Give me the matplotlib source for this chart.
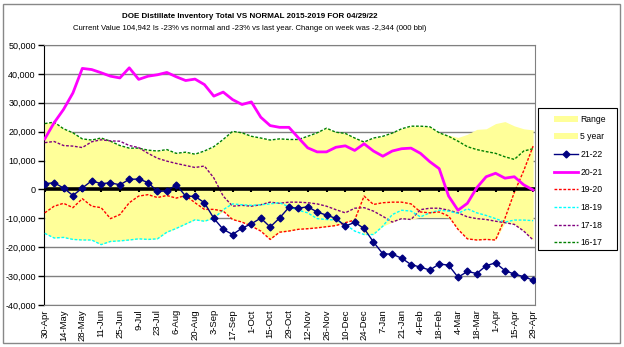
import matplotlib
matplotlib.use("Agg")
import matplotlib.pyplot as plt
from matplotlib.patches import Patch, Rectangle
from matplotlib.lines import Line2D
from matplotlib.ticker import FuncFormatter
import numpy as np

plt.rcParams['font.family'] = ['Liberation Sans', 'DejaVu Sans']

# weekly labels (every 2nd week shown)
tick_labels = ["30-Apr", "14-May", "28-May", "11-Jun", "25-Jun", "9-Jul", "23-Jul",
               "6-Aug", "20-Aug", "3-Sep", "17-Sep", "1-Oct", "15-Oct", "29-Oct",
               "12-Nov", "26-Nov", "10-Dec", "24-Dec", "7-Jan", "21-Jan", "4-Feb",
               "18-Feb", "4-Mar", "18-Mar", "1-Apr", "15-Apr", "29-Apr"]

# deviation from 5yr normal, 000 bbl
y21_22 = [2000, 2300, 500, -2100, 500, 3000, 2000, 2300, 1600, 3500, 3600, 2400, -700, -500,
          1600, -2300, -2400, -4600, -10000, -13800, -15600, -13400, -11900, -9900, -13000, -9900, -6200,
          -6500, -6000, -7800, -8900, -10000, -12700, -11400, -13500, -18200, -22300, -22400, -23800, -26000,
          -26900, -27900, -25800, -26200, -30400, -28400, -29100, -26400, -25400, -28100, -29300, -30200, -31400]
y20_21 = [17500, 23100, 27700, 33400, 41900, 41500, 40400, 39200, 38600, 42100, 38100, 39200, 39700, 40500,
          39000, 37700, 38200, 36300, 32300, 33700, 31100, 29400, 30300, 25000, 22100, 21500, 21500,
          17900, 14400, 13000, 13000, 14600, 15100, 13500, 15800, 13300, 11500, 13300, 14100, 14300,
          12500, 9600, 7200, -2300, -7200, -4800, 600, 4400, 5600, 3900, 4400, 1600, -200]
y19_20 = [-8100, -5800, -4800, -6300, -3200, -5800, -6300, -10100, -8700, -4600, -2300, -1800, -2800, -2100,
          -3000, -2100, -4600, -6900, -6900, -7500, -10400, -11300, -12700, -14400, -17300, -14800, -14400,
          -13800, -13600, -13300, -12900, -12500, -11500, -10600, -2300, -5200, -4600, -4400, -4400, -5000,
          -7800, -8100, -7800, -9200, -13800, -17100, -17500, -17300, -17500, -10000, -1000, 6500, 15000]
y18_19 = [-15200, -16800, -16600, -17300, -17500, -17500, -19100, -18000, -17800, -17500, -17100, -17300, -17100, -14800,
          -13500, -12000, -10500, -11000, -10000, -7000, -5000, -5300, -5500, -5300, -5000, -4600, -6000,
          -7200, -8100, -10100, -10400, -10600, -12100, -14400, -15600, -15600, -12700, -8700, -7200, -7500,
          -9500, -8100, -7200, -7500, -8300, -6700, -8100, -9000, -10100, -11300, -10600, -10600, -10800]
y17_18 = [16200, 16600, 15200, 15000, 14500, 16500, 17200, 16800, 16700, 15200, 14500, 12500, 10800, 9800,
          9000, 8300, 7600, 8100, 4000, -2300, -5800, -5500, -5800, -5300, -4400, -4800, -4400,
          -4400, -4600, -5000, -5800, -7000, -8100, -6500, -6300, -7500, -9300, -11300, -10100, -10400,
          -7000, -6500, -6500, -7200, -8100, -9500, -10100, -10400, -11000, -11500, -12100, -14400, -17500]
y16_17 = [22800, 23300, 21000, 19600, 17500, 17100, 17800, 16700, 15200, 14300, 14300, 13600, 13300, 13800,
          12500, 12900, 12200, 13300, 14800, 17300, 20100, 19600, 18400, 17800, 17100, 17500, 17300,
          17300, 18400, 19600, 21200, 19800, 19400, 17800, 16400, 17800, 18400, 19500, 21000, 21900,
          21900, 21700, 19600, 18400, 16700, 14800, 13800, 13100, 12500, 11300, 10400, 13300, 14100]
range_hi = [23000, 23300, 21000, 19600, 17500, 17100, 17800, 16700, 15200, 14300, 14300, 13600, 13300, 13800,
            12500, 12900, 12200, 13300, 14800, 17300, 20100, 19600, 18400, 17800, 17100, 17500, 17300,
            17300, 18400, 19600, 21200, 19800, 19400, 17800, 16600, 17800, 18400, 19500, 21000, 21900,
            21900, 21700, 19600, 18800, 18000, 19100, 20800, 21000, 22800, 23500, 22000, 21000, 20600]
range_lo = [-15200, -16800, -16600, -17300, -17500, -17500, -19100, -18000, -17800, -17500, -17100, -17300, -17100, -14800,
            -13500, -12000, -10500, -11000, -10000, -7500, -10400, -11300, -12700, -14400, -17300, -14800, -14400,
            -13800, -13600, -13300, -12900, -12500, -11500, -10600, -15600, -15600, -12700, -11300, -10100, -10400,
            -9600, -9600, -9600, -9800, -13800, -17100, -17500, -17300, -17500, -11500, -12100, -14400, -17500]

x = np.arange(len(y21_22))

fig = plt.figure(figsize=(6.24, 3.47), dpi=100)
ax = fig.add_axes([44/624, 1-305/347, (535-44)/624, (305-45)/347])

fs = 6.5
dot = (0, (2, 1.2))

ax.fill_between(x, range_lo, range_hi, color='#FFFF99', lw=0, zorder=1)
ax.plot(x, y16_17, color='#008000', lw=1, ls=dot, zorder=3)
ax.plot(x, y17_18, color='#800080', lw=1, ls=dot, zorder=3)
ax.plot(x, y18_19, color='#00FFFF', lw=1, ls=dot, zorder=3)
ax.plot(x, y19_20, color='#FF0000', lw=1, ls=dot, zorder=3)
ax.axhline(0, color='black', lw=2.6, zorder=4)
ax.plot(x[::2], np.zeros(len(x[::2])), ls='none', marker=3, ms=2.5, mew=1.5, color='black', zorder=4)
ax.plot(x, y20_21, color='#FF00FF', lw=2, zorder=5)
ax.plot(x, y21_22, color='#000080', lw=1, marker='D', ms=3.5, zorder=6)

ax.set_ylim(-40000, 50000)
ax.set_xlim(-0.08, 52.2)
ax.set_yticks(np.arange(-40000, 50001, 10000))
ax.yaxis.set_major_formatter(FuncFormatter(lambda v, p: f"{int(v):,}"))
ax.grid(axis='y', color='#808080', lw=1, zorder=0)
ax.set_axisbelow(True)
ax.set_xticks(x[::2])
ax.set_xticklabels(tick_labels, rotation=90, fontsize=6.8)
ax.tick_params(axis='x', length=0, pad=3)
ax.tick_params(axis='y', labelsize=fs, length=4, direction='out', width=1, pad=2)
for s in ['top', 'right', 'bottom']:
    ax.spines[s].set_color('#808080')
ax.spines['left'].set_color('black')

t1 = fig.text(250/624, 1-17/347, "DOE Distillate Inventory Total VS NORMAL 2015-2019 FOR 04/29/22",
              ha='center', va='center', fontsize=7, fontweight='bold')
t2 = fig.text(250/624, 1-29/347,
              "Current Value 104,942 Is -23% vs normal and -23% vs last year. Change on week was -2,344 (000 bbl)",
              ha='center', va='center', fontsize=6)
# fit title widths to the reference
rend = fig.canvas.get_renderer()
for t, w in [(t1, 255), (t2, 357)]:
    t.set_fontsize(t.get_fontsize() * w / t.get_window_extent(rend).width)

handles = [Patch(facecolor='#FFFF99', edgecolor='none'),
           Patch(facecolor='#FFFF99', edgecolor='none'),
           Line2D([], [], color='#000080', lw=1, marker='D', ms=3.5),
           Line2D([], [], color='#FF00FF', lw=2),
           Line2D([], [], color='#FF0000', lw=1, ls=dot),
           Line2D([], [], color='#00FFFF', lw=1, ls=dot),
           Line2D([], [], color='#800080', lw=1, ls=dot),
           Line2D([], [], color='#008000', lw=1, ls=dot)]
names = ["Range", "5 year", "21-22", "20-21", "19-20", "18-19", "17-18", "16-17"]
fig.legend(handles, names, loc='upper left', bbox_to_anchor=(547/624, 1-108/347),
           fontsize=6.2, frameon=False, handlelength=2.8, handleheight=0.7,
           labelspacing=1.0, borderpad=0.3, handletextpad=0.25, numpoints=1)
fig.patches.append(Rectangle((538/624, 1-250/347), 79/624, 142/347, transform=fig.transFigure,
                             fill=False, edgecolor='black', lw=0.8))

fig.patches.append(Rectangle((3/624, 4/347), 617/624, 339/347, transform=fig.transFigure,
                             fill=False, edgecolor='#888888', lw=1))

fig.savefig("out.png", dpi=100)
